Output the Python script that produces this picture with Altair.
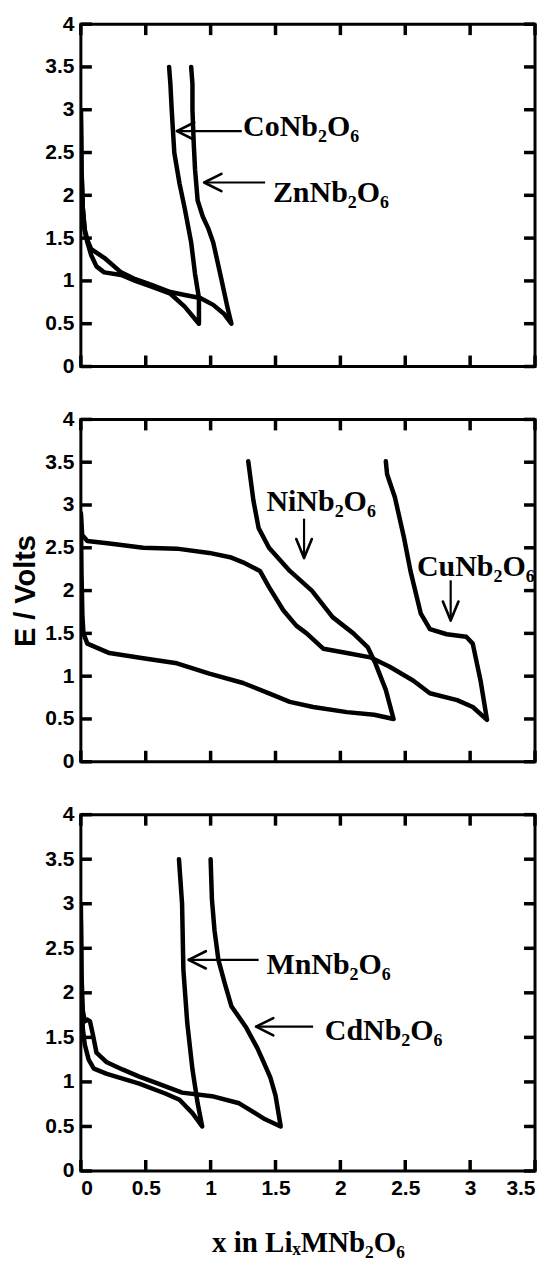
import altair as alt
import pandas as pd

# ---------------- data ----------------
X_TICKS = [0, 0.5, 1, 1.5, 2, 2.5, 3, 3.5]
Y_TICKS = [0, 0.5, 1, 1.5, 2, 2.5, 3, 3.5, 4]
X_MIN, X_MAX = 0, 3.5
Y_MIN, Y_MAX = 0, 4

# Panel 1
CO_X = [0, 0.005, 0.015, 0.03, 0.05, 0.08, 0.12, 0.18, 0.31, 0.42, 0.55, 0.69, 0.80, 0.91,
        0.91, 0.88, 0.85, 0.80, 0.76, 0.72, 0.70, 0.69, 0.68]
CO_Y = [3.0, 2.3, 1.85, 1.58, 1.45, 1.30, 1.17, 1.10, 1.07, 1.00, 0.93, 0.85, 0.70, 0.50,
        0.80, 1.08, 1.45, 1.85, 2.14, 2.50, 3.00, 3.30, 3.50]
ZN_X = [0, 0.005, 0.015, 0.03, 0.05, 0.08, 0.18, 0.31, 0.42, 0.55, 0.69, 0.82, 0.92, 1.02, 1.10, 1.16,
        1.13, 1.08, 1.02, 0.98, 0.94, 0.90, 0.88, 0.87, 0.86, 0.86, 0.85]
ZN_Y = [3.0, 2.3, 1.85, 1.6, 1.48, 1.37, 1.27, 1.10, 1.02, 0.95, 0.87, 0.83, 0.80, 0.72, 0.62, 0.50,
        0.69, 1.04, 1.45, 1.62, 1.75, 1.94, 2.30, 2.60, 3.00, 3.30, 3.50]

# Panel 2
NI_X = [0, 0.005, 0.012, 0.02, 0.05, 0.22, 0.48, 0.74, 0.99, 1.25, 1.45, 1.61, 1.79, 2.05, 2.26, 2.41,
        2.35, 2.27, 2.21, 2.10, 1.94, 1.78, 1.61, 1.45, 1.37, 1.33, 1.29]
NI_Y = [2.9, 2.2, 1.7, 1.5, 1.38, 1.27, 1.21, 1.15, 1.03, 0.92, 0.80, 0.70, 0.64, 0.58, 0.55, 0.50,
        0.84, 1.15, 1.34, 1.50, 1.69, 2.00, 2.23, 2.50, 2.73, 3.05, 3.51]
CU_X = [0, 0.01, 0.05, 0.22, 0.48, 0.74, 0.99, 1.15, 1.25, 1.38, 1.45, 1.56, 1.66, 1.74, 1.87, 2.05,
        2.23, 2.38, 2.56, 2.69, 2.90, 3.02, 3.13,
        3.08, 3.02, 2.97, 2.82, 2.69, 2.62, 2.54, 2.49, 2.42, 2.36, 2.35]
CU_Y = [2.9, 2.65, 2.58, 2.55, 2.50, 2.49, 2.44, 2.39, 2.33, 2.23, 2.04, 1.77, 1.59, 1.50, 1.32, 1.27,
        1.22, 1.11, 0.95, 0.80, 0.72, 0.64, 0.49,
        0.95, 1.38, 1.46, 1.49, 1.55, 1.73, 2.23, 2.62, 3.09, 3.36, 3.51]

# Panel 3
MN_X = [0, 0.005, 0.015, 0.03, 0.06, 0.10, 0.20, 0.45, 0.65, 0.76, 0.86, 0.935,
        0.90, 0.86, 0.82, 0.79, 0.78, 0.756]
MN_Y = [2.8, 2.0, 1.6, 1.42, 1.25, 1.15, 1.09, 0.98, 0.87, 0.80, 0.65, 0.50,
        0.76, 1.14, 1.66, 2.26, 3.0, 3.5]
CD_X = [0, 0.005, 0.015, 0.03, 0.05, 0.07, 0.09, 0.12, 0.2, 0.32, 0.45, 0.58, 0.78, 1.01, 1.22, 1.42, 1.54,
        1.50, 1.46, 1.40, 1.36, 1.27, 1.16, 1.11, 1.06, 1.03, 1.01, 1.00]
CD_Y = [3.0, 2.2, 1.8, 1.68, 1.70, 1.68, 1.55, 1.33, 1.22, 1.14, 1.06, 0.99, 0.88, 0.84, 0.76, 0.58, 0.50,
        0.85, 1.05, 1.25, 1.38, 1.62, 1.85, 2.10, 2.37, 2.70, 3.05, 3.50]

# Labels and arrows
P1_LABELS = ["CoNb₂O₆", "ZnNb₂O₆"]
P1_LAB_X = [1.25, 1.48]
P1_LAB_Y = [2.80, 2.03]
P1_ARR_X = [1.24, 1.42]
P1_ARR_X2 = [0.74, 0.95]
P1_ARR_Y = [2.75, 2.15]

P2_LABELS = ["NiNb₂O₆", "CuNb₂O₆"]
P2_LAB_X = [1.43, 2.59]
P2_LAB_Y = [3.04, 2.27]
P2_ARR_X = [1.72, 2.85]
P2_ARR_Y = [2.84, 2.12]
P2_ARR_Y2 = [2.38, 1.65]

P3_LABELS = ["MnNb₂O₆", "CdNb₂O₆"]
P3_LAB_X = [1.43, 1.88]
P3_LAB_Y = [2.31, 1.57]
P3_ARR_X = [1.37, 1.79]
P3_ARR_X2 = [0.83, 1.35]
P3_ARR_Y = [2.37, 1.62]

Y_TITLE = "E / Volts"
X_TITLE = "x in LiₓMNb₂O₆"

# ---------------- helpers ----------------
XS = alt.Scale(domain=[X_MIN, X_MAX], nice=False, zero=False)
YS = alt.Scale(domain=[Y_MIN, Y_MAX], nice=False, zero=False)
W = 455
TICK_PX = 11

LEFT_ARROW = "M0,0L2,-1M0,0L2,1"
DOWN_ARROW = "M0,0L-0.9,-2.2M0,0L0.9,-2.2"


def curves(series):
    rows = []
    for name, xs, ys in series:
        for i, (x, y) in enumerate(zip(xs, ys)):
            rows.append({"s": name, "i": i, "x": x, "y": y})
    return pd.DataFrame(rows)


def tick_data(height):
    # inward tick segments; length converted from pixels into data units
    dx = TICK_PX * (X_MAX - X_MIN) / W
    dy = TICK_PX * (Y_MAX - Y_MIN) / height
    rows = []
    for v in X_TICKS:
        rows.append({"s": f"b{v}", "i": 0, "x": v, "y": Y_MIN})
        rows.append({"s": f"b{v}", "i": 1, "x": v, "y": Y_MIN + dy})
        rows.append({"s": f"t{v}", "i": 0, "x": v, "y": Y_MAX})
        rows.append({"s": f"t{v}", "i": 1, "x": v, "y": Y_MAX - dy})
    for v in Y_TICKS:
        rows.append({"s": f"l{v}", "i": 0, "x": X_MIN, "y": v})
        rows.append({"s": f"l{v}", "i": 1, "x": X_MIN + dx, "y": v})
        rows.append({"s": f"r{v}", "i": 0, "x": X_MAX, "y": v})
        rows.append({"s": f"r{v}", "i": 1, "x": X_MAX - dx, "y": v})
    return pd.DataFrame(rows)


def panel(series, labels, arrows, heads, head_shape, height, bottom=False, ytitle=False):
    df = curves(series)
    xaxis_kw = dict(values=X_TICKS, orient="bottom", ticks=False, tickSize=0, domain=False,
                    grid=False, format="~g", labels=bottom, labelPadding=7)
    if bottom:
        xaxis_kw.update(title=X_TITLE, titleFont="Liberation Serif", titleFontWeight="bold",
                        titleFontSize=29, titlePadding=30)
    else:
        xaxis_kw.update(title=None)
    yaxis_kw = dict(values=Y_TICKS, orient="left", ticks=False, tickSize=0, domain=False,
                    grid=False, format="~g", labelPadding=7)
    if ytitle:
        yaxis_kw.update(title=Y_TITLE, titleFont="Liberation Sans", titleFontWeight="bold",
                        titleFontSize=29, titlePadding=4)
    else:
        yaxis_kw.update(title=None)

    lines = alt.Chart(df).mark_line(strokeWidth=4.5, strokeCap="round", strokeJoin="round",
                                    color="black", clip=True).encode(
        x=alt.X("x:Q", scale=XS, axis=alt.Axis(**xaxis_kw)),
        y=alt.Y("y:Q", scale=YS, axis=alt.Axis(**yaxis_kw)),
        detail="s:N",
        order="i:Q",
    )
    ticks = alt.Chart(tick_data(height)).mark_line(
        strokeWidth=3.5, color="black", strokeCap="butt").encode(
        x=alt.X("x:Q", scale=XS, axis=None),
        y=alt.Y("y:Q", scale=YS, axis=None),
        detail="s:N",
        order="i:Q",
    )

    arrow_df = pd.DataFrame(arrows)
    enc = dict(x=alt.X("x:Q", scale=XS, axis=None), y=alt.Y("y:Q", scale=YS, axis=None))
    if "x2" in arrow_df:
        enc["x2"] = "x2:Q"
    if "y2" in arrow_df:
        enc["y2"] = "y2:Q"
    shafts = alt.Chart(arrow_df).mark_rule(strokeWidth=2.2, color="black").encode(**enc)
    heads_ch = alt.Chart(pd.DataFrame(heads)).mark_point(
        shape=head_shape, size=300, filled=False, stroke="black", strokeWidth=2.6, opacity=1,
        strokeCap="round").encode(
        x=alt.X("x:Q", scale=XS, axis=None), y=alt.Y("y:Q", scale=YS, axis=None))
    texts = alt.Chart(pd.DataFrame(labels)).mark_text(
        align="left", baseline="middle", font="Liberation Serif", fontWeight="bold",
        fontSize=30, color="black").encode(
        x=alt.X("x:Q", scale=XS, axis=None), y=alt.Y("y:Q", scale=YS, axis=None), text="t:N")

    return alt.layer(lines, ticks, shafts, heads_ch, texts).resolve_axis(
        x="independent", y="independent").properties(width=W, height=height)


p1 = panel(
    [("Co", CO_X, CO_Y), ("Zn", ZN_X, ZN_Y)],
    {"t": P1_LABELS, "x": P1_LAB_X, "y": P1_LAB_Y},
    {"x": P1_ARR_X, "x2": P1_ARR_X2, "y": P1_ARR_Y},
    {"x": P1_ARR_X2, "y": P1_ARR_Y},
    LEFT_ARROW, 343)
p2 = panel(
    [("Ni", NI_X, NI_Y), ("Cu", CU_X, CU_Y)],
    {"t": P2_LABELS, "x": P2_LAB_X, "y": P2_LAB_Y},
    {"x": P2_ARR_X, "y": P2_ARR_Y, "y2": P2_ARR_Y2},
    {"x": P2_ARR_X, "y": P2_ARR_Y2},
    DOWN_ARROW, 343, ytitle=True)
p3 = panel(
    [("Mn", MN_X, MN_Y), ("Cd", CD_X, CD_Y)],
    {"t": P3_LABELS, "x": P3_LAB_X, "y": P3_LAB_Y},
    {"x": P3_ARR_X, "x2": P3_ARR_X2, "y": P3_ARR_Y},
    {"x": P3_ARR_X2, "y": P3_ARR_Y},
    LEFT_ARROW, 357, bottom=True)

chart = alt.vconcat(p1, p2, p3, spacing=28).properties(
    padding={"left": 2, "top": 2, "right": 0, "bottom": 0},
    background="white",
).configure_view(
    stroke="black", strokeWidth=3
).configure_axis(
    labelFont="Liberation Sans", labelFontWeight="bold", labelFontSize=21, labelColor="black",
    titleColor="black"
)

chart.save("out.html", embed_options={"renderer": "svg", "actions": False})
